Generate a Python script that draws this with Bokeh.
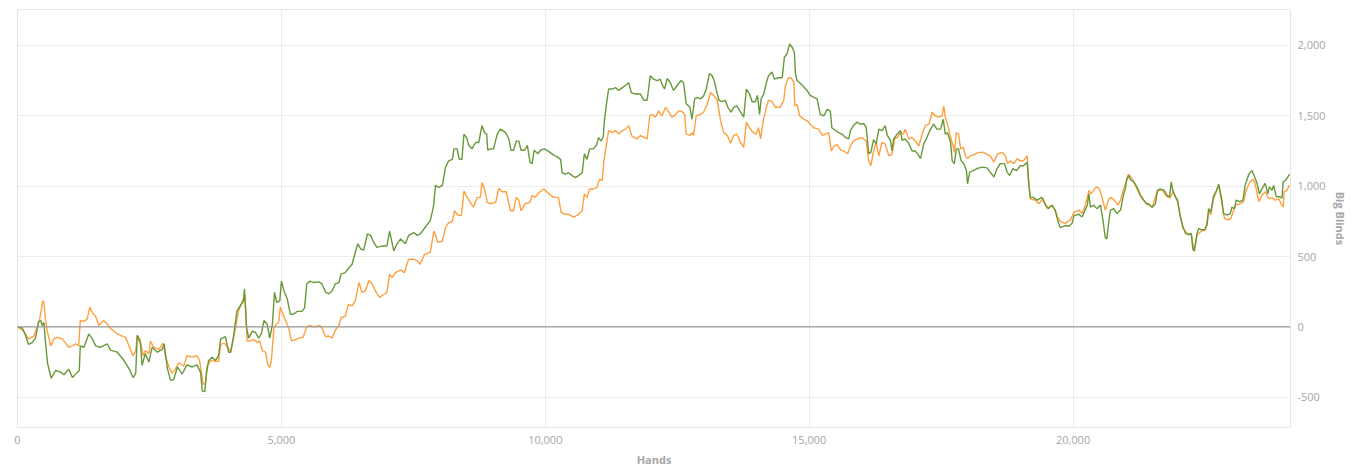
from bokeh.plotting import figure
from bokeh.models import Span, NumeralTickFormatter, FixedTicker, LinearAxis, Range1d
from bokeh.embed import file_html
from bokeh.resources import INLINE

# ---- data (hands, big blinds) ----
green_hands = [0, 90, 150, 210, 280, 340, 400, 440, 470, 500, 530, 570, 640, 720, 810, 880, 970, 1040, 1130, 1170,
               1190, 1260, 1350, 1420, 1480, 1570, 1700, 1760, 1890, 2010, 2110, 2190, 2240, 2270, 2330, 2360, 2420,
               2490, 2550, 2650, 2740, 2780, 2840, 2900, 2960, 3030, 3120, 3210, 3310, 3400, 3470, 3500, 3550, 3580,
               3620, 3690, 3750, 3810,
               3850, 3910, 3940, 4000, 4040, 4090, 4160, 4220, 4280, 4300, 4340, 4380, 4450, 4510, 4570, 4620, 4670,
               4730, 4780, 4830, 4870, 4910, 4970, 5000, 5050, 5110, 5170, 5230, 5300, 5390, 5440, 5480, 5540, 5610,
               5710, 5770, 5840, 5900, 5960, 6020, 6090, 6130, 6210, 6280, 6340, 6400, 6450, 6500, 6560, 6630, 6690,
               6750, 6810, 6910, 7000, 7050, 7130, 7190, 7260, 7350, 7410, 7510, 7570, 7630,
               7820, 7880, 7920, 7980, 8050, 8110, 8170, 8240, 8270, 8330, 8370, 8420, 8460, 8510, 8550, 8610, 8680,
               8740, 8800, 8850, 8890, 8910, 8960, 9020, 9090, 9150, 9250, 9310, 9350, 9400, 9450, 9500, 9540, 9610,
               9660, 9710, 9750, 9790, 9860, 9910, 9980, 10070, 10160, 10220, 10290, 10320, 10380, 10440, 10510,
               10570, 10630, 10700, 10740, 10790, 10840, 10910, 10970, 11010, 11060, 11100, 11120, 11160, 11200,
               11270, 11330, 11390, 11460, 11520, 11580, 11630, 11690, 11770,
               11800, 11870, 11930, 11990, 12050, 12120, 12180, 12210, 12260, 12310, 12370, 12430, 12500, 12570,
               12620, 12670, 12740, 12780, 12830, 12880, 12940, 13000, 13050, 13110, 13160, 13200, 13260, 13290,
               13350, 13410, 13460, 13520, 13570, 13630, 13700, 13760, 13810, 13870, 13920, 13980, 14020, 14060,
               14090, 14140, 14190, 14230, 14300, 14340, 14420, 14490, 14530, 14580, 14630, 14680, 14720, 14740,
               14770, 14820, 14870, 14910, 14960, 15020, 15090, 15150, 15210, 15280, 15340, 15400, 15430, 15500,
               15560, 15620, 15690, 15750,
               15780, 15840, 15910, 15970, 16030, 16080, 16130, 16170, 16220, 16270, 16320, 16380, 16440, 16480,
               16540, 16570, 16600, 16670, 16730, 16760, 16820, 16890, 16950, 17010, 17080, 17110, 17170, 17230,
               17300, 17360, 17420, 17490, 17540, 17580, 17620, 17680, 17710, 17750, 17790, 17830, 17880, 17930,
               17980, 18000, 18040, 18110, 18180, 18280, 18370, 18430, 18500, 18560, 18620, 18700, 18750, 18800,
               18860, 18930, 19000, 19060, 19130, 19160, 19190, 19250, 19320, 19410, 19480, 19540, 19600, 19660,
               19710,
               19760, 19850, 19920, 19980, 20020, 20110, 20170, 20210, 20270, 20300, 20330, 20390, 20450, 20520,
               20570, 20610, 20640, 20680, 20710, 20770, 20830, 20900, 20960, 20990, 21020, 21050, 21100, 21150,
               21210, 21280, 21340, 21390, 21430, 21500, 21560, 21600, 21650, 21730, 21780, 21830, 21860, 21890,
               21940, 21980, 22030, 22080, 22130, 22190, 22240, 22270, 22300, 22350, 22380, 22430, 22490, 22540,
               22570, 22610, 22660, 22720, 22760, 22790, 22820, 22850, 22920, 22980, 23010, 23060, 23090, 23160,
               23220, 23260, 23330, 23390, 23430, 23490, 23530, 23580, 23640, 23690, 23720, 23770, 23800, 23850,
               23910, 23960, 23980, 24020, 24070, 24100]
green_bb = [0, -8, -60, -125, -110, -80, 35, 45, 10, 30, -110, -260, -365, -310, -320, -340, -300, -360, -325, -310,
            -135, -145, -50, -85, -135, -145, -120, -165, -180, -235, -295, -360, -330, -60, -120, -275, -190,
            -250, -145, -180, -160, -120, -295, -380, -375, -285, -335, -270, -285, -270, -325, -455, -460, -335,
            -240, -215, -240, -205,
            -85, -75, -70, -180, -180, -75, 115, 150, 180, 270, -5, -80, -30, -40, -80, -50, 45,
            20, -80, 20, 245, 175, 185, 325, 255, 200, 90, 90, 110, 110, 135, 305, 325, 315,
            320, 305, 245, 235, 255, 305, 315, 375, 385, 420, 445, 530, 590, 555, 545, 660, 650,
            600, 565, 575, 575, 680, 540, 590, 625, 590, 650, 670, 650, 660,
            755, 850, 1005, 990, 1005, 1135, 1180, 1190, 1265, 1265, 1190, 1190, 1370, 1345, 1290, 1265, 1310,
            1310, 1430, 1380, 1370, 1255, 1265, 1265, 1370, 1405, 1380, 1335, 1255, 1255, 1320, 1320, 1255, 1255,
            1290, 1170, 1160, 1255, 1230, 1255, 1265, 1245, 1220, 1210, 1190, 1095, 1085, 1095, 1075,
            1060, 1075, 1095, 1230, 1190, 1265, 1265, 1290, 1345, 1320, 1355, 1465, 1585, 1690,
            1690, 1700, 1680, 1700, 1715, 1735, 1665, 1655, 1655,
            1655, 1610, 1610, 1785, 1760, 1750, 1760, 1725, 1690, 1765, 1735, 1680, 1715, 1750,
            1735, 1585, 1560, 1475, 1620, 1630, 1620, 1640, 1690, 1800, 1785, 1750, 1655, 1610,
            1600, 1610, 1560, 1525, 1560, 1570, 1525, 1490, 1690, 1655, 1600, 1600, 1645, 1510,
            1620, 1655, 1735, 1785, 1810, 1760, 1770, 1770, 1915, 1940, 2010, 1985, 1950, 1800,
            1750, 1735, 1715, 1700, 1680, 1645, 1630, 1620, 1510, 1500, 1545, 1535, 1415, 1395,
            1380, 1370, 1345, 1335,
            1395, 1430, 1455, 1440, 1445, 1420, 1230, 1240, 1330, 1300, 1405, 1395, 1430, 1360,
            1325, 1250, 1335, 1370, 1395, 1325, 1335, 1300, 1250, 1250, 1215, 1195, 1300, 1345,
            1405, 1440, 1405, 1405, 1475, 1370, 1380, 1310, 1180, 1160, 1265, 1265, 1180, 1160,
            1110, 1015, 1100, 1110, 1125, 1135, 1130, 1100, 1065, 1125, 1160, 1160, 1100, 1075,
            1125, 1110, 1145, 1145, 1170, 1015, 920, 920, 900, 920, 865, 840, 865, 830,
            755,
            705, 720, 715, 735, 790, 800, 780, 815, 865, 945, 850, 865, 840, 865,
            750, 635, 625, 760, 830, 840, 805, 830, 945, 980, 1050, 1075, 1040, 1030,
            995, 935, 900, 875, 875, 850, 875, 970, 980, 970, 935, 925, 1030, 970,
            925, 900, 785, 715, 665, 655, 665, 550, 540, 665, 700, 690, 690, 725,
            840, 815, 925, 970, 1015, 960, 900, 805, 795, 805, 850, 840, 900, 890,
            900, 1005, 1085, 1110, 1075, 1015, 945, 980, 1020, 945, 995, 970, 1005, 925,
            925, 915, 1030, 1040, 1065, 1085]

orange_hands = [0, 120, 210, 310, 370, 420, 480, 500, 530, 560, 630, 690, 750, 850, 910, 970, 1040, 1100, 1160,
                1190, 1260, 1320, 1370, 1420, 1480, 1540, 1630, 1700, 1760, 1860, 1950, 2050, 2110, 2190, 2240,
                2270, 2320, 2380, 2420, 2490, 2520, 2580, 2680, 2760, 2800, 2870, 2930, 2990, 3060, 3150, 3210,
                3310, 3400, 3450, 3520, 3560, 3590, 3660, 3750, 3810,
                3850, 3920, 3970, 4040, 4100, 4190, 4290, 4310, 4350, 4410, 4480, 4540, 4590, 4640, 4700, 4740,
                4780, 4810, 4860, 4910, 4950, 4980, 5030, 5080, 5140, 5190, 5270, 5330, 5410, 5480, 5540, 5610,
                5730, 5770, 5840, 5900, 5960, 6020, 6090, 6130, 6210, 6270, 6340, 6400, 6470, 6530, 6590, 6660,
                6720, 6780, 6860, 6940, 7000, 7050, 7100, 7160, 7260, 7330, 7410, 7510, 7570, 7630, 7710, 7790,
                7820, 7890, 7920, 7960, 8050, 8110, 8170, 8240, 8280, 8340, 8410, 8460, 8520, 8580, 8640, 8710,
                8770, 8800, 8850, 8900, 8960, 9060, 9120, 9180, 9260, 9340, 9400, 9450, 9500, 9540, 9620, 9710,
                9750, 9810, 9880, 9970, 10070, 10160, 10250, 10300, 10360, 10440, 10540, 10630, 10700, 10740,
                10790, 10840, 10910, 10980, 11030, 11080, 11110, 11160, 11200, 11270, 11330, 11390, 11460, 11520,
                11580, 11640, 11740,
                11800, 11880, 11930, 11980, 12020, 12090, 12150, 12210, 12280, 12340, 12400, 12470, 12530, 12590,
                12640, 12670, 12740, 12780, 12810, 12860, 12940, 13000, 13070, 13130, 13190, 13260, 13320, 13380,
                13450, 13510, 13570, 13630, 13700, 13760, 13810, 13870, 13940, 14000, 14040, 14080, 14130, 14190,
                14230, 14300, 14360, 14450, 14520, 14550, 14610, 14660, 14710, 14730, 14770, 14820, 14900, 14960,
                15020, 15090, 15180, 15250, 15310, 15370, 15420, 15470, 15530, 15590, 15650, 15730,
                15780, 15840, 15910, 16000, 16080, 16130, 16170, 16220, 16270, 16320, 16380, 16440, 16510, 16570,
                16620, 16670, 16730, 16790, 16820, 16890, 16950, 17010, 17080, 17140, 17200, 17270, 17330, 17390,
                17450, 17520, 17550, 17580, 17620, 17680, 17730, 17750, 17790, 17830, 17870, 17920, 17960, 18000,
                18050, 18130, 18210, 18300, 18370, 18430, 18500, 18560, 18650, 18720, 18760, 18810, 18880, 18940,
                19000, 19060, 19130, 19160, 19190, 19290, 19350, 19430, 19510, 19600, 19660, 19710,
                19760, 19850, 19950, 20020, 20110, 20170, 20210, 20270, 20300, 20340, 20390, 20440, 20500, 20550,
                20610, 20680, 20720, 20780, 20850, 20900, 20950, 20990, 21050, 21100, 21150, 21280, 21390, 21500,
                21600, 21690, 21780, 21840, 21890, 21980, 22080, 22190, 22240, 22290, 22350, 22430, 22510, 22570,
                22610, 22660, 22760, 22820, 22870, 22930, 22990, 23030, 23080, 23170, 23230, 23280, 23350, 23410,
                23450, 23520, 23580, 23640, 23710, 23770, 23830, 23900, 23940, 23980, 24000, 24050, 24100]
orange_bb = [0, -30, -85, -65, -5, 55, 185, 175, 55, -25, -135, -85, -75, -85, -115, -145, -135, -120, -135,
             45, 40, 55, 140, 100, 75, 10, 45, 20, -10, -40, -60, -75, -135, -205, -170,
             -60, -85, -205, -170, -190, -100, -145, -160, -115, -205, -285, -330, -300, -255, -280, -205,
             -215, -205, -240, -410, -400, -280, -240, -245, -245,
             -125, -115, -140, -175, -65, 115, 210, 230, -100, -100, -90, -110, -100, -170, -180, -265,
             -290, -240, 0, 20, 35, 140, 90, 45, -10, -100, -90, -80, -75, 0, 10, 0,
             10, -10, -70, -65, -80, -25, 10, 65, 75, 160, 150, 185, 315, 245, 255, 330,
             305, 255, 210, 230, 245, 375, 350, 385, 405, 385, 480, 480, 470, 445, 515, 525,
             530, 680, 655, 600, 610, 705, 740, 750, 825, 795, 790, 965, 920, 885, 850, 920,
             920, 1025, 980, 885, 875, 885, 985, 960, 960, 825, 825, 920, 900, 825, 875, 885,
             935, 920, 955, 980, 945, 920, 920, 815, 800, 800, 780, 800, 825, 945,
             920, 980, 980, 990, 1050, 1040, 1180, 1300, 1395, 1380, 1395, 1370, 1395, 1405,
             1430, 1355, 1335,
             1360, 1345, 1335, 1500, 1510, 1490, 1535, 1500, 1560, 1525, 1490, 1510, 1535, 1530,
             1510, 1370, 1360, 1380, 1360, 1500, 1510, 1525, 1580, 1665, 1645, 1610, 1465, 1380,
             1360, 1305, 1360, 1370, 1310, 1275, 1455, 1415, 1380, 1370, 1415, 1335, 1465, 1560,
             1610, 1600, 1560, 1560, 1610, 1715, 1770, 1770, 1735, 1570, 1580, 1500, 1475, 1465,
             1440, 1415, 1405, 1360, 1370, 1380, 1250, 1285, 1295, 1260, 1250, 1230,
             1285, 1320, 1335, 1345, 1320, 1180, 1145, 1250, 1310, 1215, 1310, 1300, 1215, 1225,
             1335, 1345, 1380, 1370, 1405, 1335, 1345, 1320, 1285, 1370, 1430, 1440, 1525, 1500,
             1490, 1500, 1570, 1490, 1440, 1345, 1285, 1240, 1380, 1370, 1265, 1275, 1215, 1195,
             1215, 1225, 1240, 1240, 1225, 1215, 1170, 1225, 1240, 1215, 1160, 1180, 1160, 1195,
             1180, 1180, 1215, 1040, 910, 900, 875, 910, 840, 865, 830, 780,
             750, 735, 760, 815, 830, 805, 840, 920, 970, 945, 970, 995, 980, 920,
             830, 910, 920, 900, 865, 900, 970, 1015, 1085, 1065, 1030, 925, 875, 850,
             970, 970, 925, 915, 960, 890, 700, 655, 660, 540, 655, 680, 690, 830,
             795, 910, 1005, 875, 770, 760, 770, 815, 865, 875, 890, 970, 1030, 1050,
             1015, 890, 935, 960, 910, 920, 900, 910, 875, 850, 960, 970, 1005]

x_ticks = [0, 5000, 10000, 15000, 20000]
y_ticks = [-500, 0, 500, 1000, 1500, 2000]

FONT = "Open Sans"
TXT = "#a6a6a6"

p = figure(width=1353, height=472, output_backend="svg", toolbar_location=None,
           x_range=Range1d(0, 24120), y_range=Range1d(-715, 2255),
           y_axis_location=None, min_border_left=17, min_border_top=9, min_border_right=63,
           min_border_bottom=45)
p.background_fill_color = "white"
p.border_fill_color = "white"
p.outline_line_color = "#e6e6e6"

yax = LinearAxis(axis_label="Big Blinds")
p.add_layout(yax, "right")

for ax in (p.xaxis[0], yax):
    ax.axis_line_color = None
    ax.major_tick_line_color = None
    ax.minor_tick_line_color = None
    ax.major_label_text_font = FONT
    ax.major_label_text_font_size = "11px"
    ax.major_label_text_color = TXT
    ax.axis_label_text_font = FONT
    ax.axis_label_text_font_size = "11px"
    ax.axis_label_text_font_style = "bold"
    ax.axis_label_text_color = TXT
    ax.formatter = NumeralTickFormatter(format="0,0")
    ax.major_tick_out = 0
    ax.major_tick_in = 0

p.xaxis[0].ticker = FixedTicker(ticks=x_ticks)
p.xaxis[0].axis_label = "Hands"
p.xaxis[0].major_label_standoff = 8
p.xaxis[0].axis_label_standoff = 5
yax.ticker = FixedTicker(ticks=y_ticks)
yax.major_label_standoff = 7
yax.axis_label_standoff = 4

p.xgrid.ticker = FixedTicker(ticks=x_ticks)
p.ygrid.ticker = FixedTicker(ticks=y_ticks)
p.xgrid.grid_line_color = "#ececec"
p.ygrid.grid_line_color = "#ececec"

p.add_layout(Span(location=0, dimension="width", line_color="#9a9a9a", line_width=1.2))

p.line(orange_hands, orange_bb, line_color="#ffa040", line_width=1.4)
p.line(green_hands, green_bb, line_color="#67993a", line_width=1.4)

open("out.html", "w").write(file_html(p, INLINE))
